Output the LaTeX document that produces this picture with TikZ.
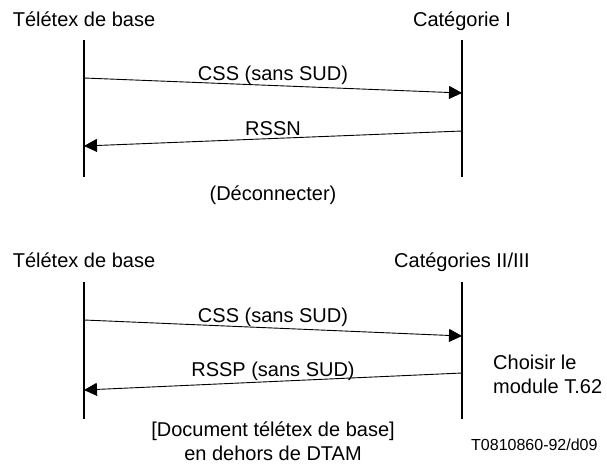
\documentclass[tikz,border=0pt]{standalone}
\usepackage{fontspec}
\setmainfont{Liberation Sans}
\usetikzlibrary{arrows.meta}
\begin{document}
\begin{tikzpicture}[x=1pt,y=-1pt,>={Triangle[length=13pt,width=13pt]}, font=\fontsize{20}{24}\selectfont, line join=round,
	vie/.style={line width=2pt},
	msg/.style={->,line width=.9pt},
	lbl/.style={anchor=base,inner sep=0pt}]
	\useasboundingbox (0,0) rectangle (607,464);
	\def\xa{84} \def\xb{462} \def\xm{273}
	%Haut
	\node[lbl] (gA) at (\xa,26) {Télétex de base};
	\node[lbl] (dA) at (\xb,26) {Catégorie I};
	\coordinate (gA1) at (\xa,40); \coordinate (gA2) at (\xa,177);
	\coordinate (dA1) at (\xb,40); \coordinate (dA2) at (\xb,177);
	\draw[vie] (gA1)--(gA2);
	\draw[vie] (dA1)--(dA2);
	\coordinate (pA1) at (\xa,78); \coordinate (qA1) at (\xb,93);
	\coordinate (pA2) at (\xb,131); \coordinate (qA2) at (\xa,146);
	\draw[msg] (pA1)--(qA1);
	\draw[msg] (pA2)--(qA2);
	\node[lbl] (mA1) at (\xm,80) {CSS (sans SUD)};
	\node[lbl] (mA2) at (\xm,135) {RSSN};
	\node[lbl] (fA) at (\xm,200) {(Déconnecter)};
	%Bas
	\node[lbl] (gB) at (\xa,267) {Télétex de base};
	\node[lbl] (dB) at (\xb,267) {Catégories II/III};
	\coordinate (gB1) at (\xa,282); \coordinate (gB2) at (\xa,419);
	\coordinate (dB1) at (\xb,282); \coordinate (dB2) at (\xb,419);
	\draw[vie] (gB1)--(gB2);
	\draw[vie] (dB1)--(dB2);
	\coordinate (pB1) at (\xa,320); \coordinate (qB1) at (\xb,336);
	\coordinate (pB2) at (\xb,373); \coordinate (qB2) at (\xa,390);
	\draw[msg] (pB1)--(qB1);
	\draw[msg] (pB2)--(qB2);
	\node[lbl] (mB1) at (\xm,322) {CSS (sans SUD)};
	\node[lbl] (mB2) at (\xm,376) {RSSP (sans SUD)};
	\node[lbl,anchor=base west,align=left] (cB) at (493,393) {Choisir le\\module T.62};
	\node[lbl,align=center] (fB) at (\xm,460) {[Document télétex de base]\\en dehors de DTAM};
	\node[lbl,anchor=base west,font=\fontsize{16}{19}\selectfont] (ref) at (471,450) {T0810860-92/d09};
\end{tikzpicture}
\end{document}
